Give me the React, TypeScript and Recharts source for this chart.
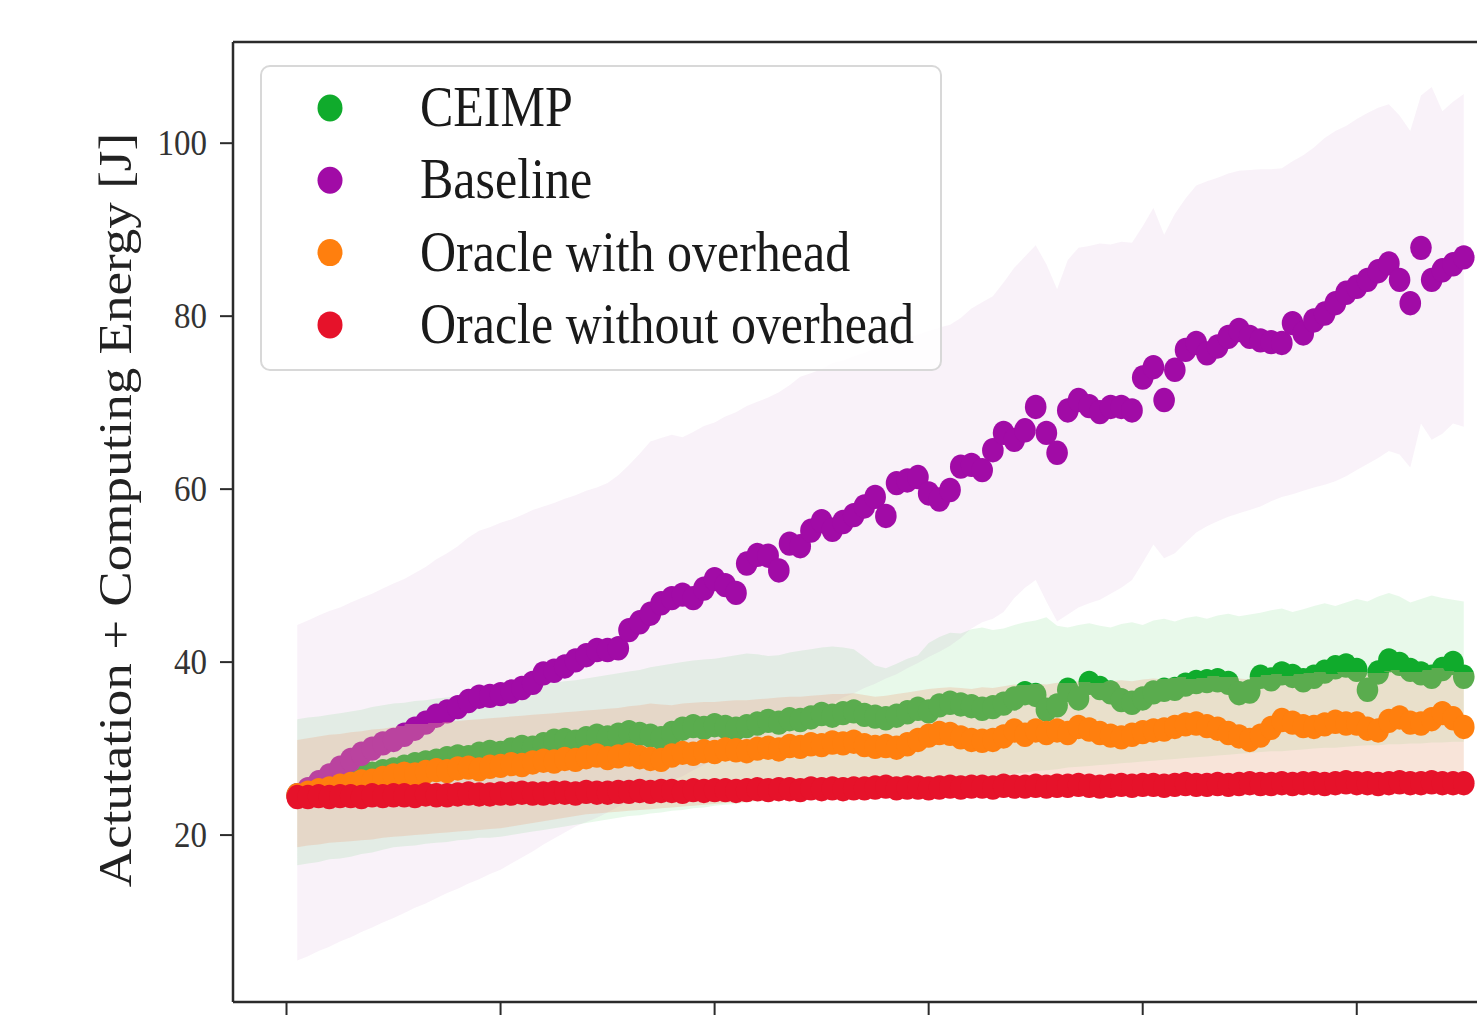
import React from 'react';
import { ComposedChart, Area, XAxis, YAxis, Legend, ReferenceLine } from 'recharts';

const FONT = "'Liberation Serif', 'Times New Roman', Times, serif";

const steps = [
  1, 2, 3, 4, 5, 6, 7, 8, 9, 10, 11, 12, 13, 14, 15, 16, 17, 18, 19, 20,
  21, 22, 23, 24, 25, 26, 27, 28, 29, 30, 31, 32, 33, 34, 35, 36, 37, 38, 39, 40,
  41, 42, 43, 44, 45, 46, 47, 48, 49, 50, 51, 52, 53, 54, 55, 56, 57, 58, 59, 60,
  61, 62, 63, 64, 65, 66, 67, 68, 69, 70, 71, 72, 73, 74, 75, 76, 77, 78, 79, 80,
  81, 82, 83, 84, 85, 86, 87, 88, 89, 90, 91, 92, 93, 94, 95, 96, 97, 98, 99, 100,
  101, 102, 103, 104, 105, 106, 107, 108, 109, 110,
];

const xTicks = [0, 20, 40, 60, 80, 100];
const yTicks = [20, 40, 60, 80, 100];

const seriesNames = ['CEIMP', 'Baseline', 'Oracle with overhead', 'Oracle without overhead'];
const yLabel = 'Actutation + Computing Energy [J]';

// mean values
const ceimp = [
  24.6, 25.0, 25.4, 25.8, 26.1, 26.5, 26.8, 27.1, 27.4, 27.6,
  27.9, 28.2, 28.4, 28.6, 28.9, 29.1, 29.0, 29.4, 29.6, 29.5,
  29.9, 30.2, 30.1, 30.5, 30.9, 31.0, 30.8, 31.2, 31.5, 31.3,
  31.6, 31.9, 31.7, 31.5, 31.2, 31.8, 32.3, 32.6, 32.4, 32.7,
  32.5, 32.3, 32.6, 32.9, 33.2, 33.0, 33.4, 33.3, 33.6, 34.0,
  33.8, 34.1, 34.3, 33.9, 33.7, 33.5, 33.8, 34.2, 34.6, 34.3,
  35.0, 35.3, 35.1, 34.9, 34.6, 34.8, 35.2, 35.8, 36.4, 36.2,
  34.5, 35.0, 36.8, 35.8, 37.6, 37.0, 36.5, 35.6, 35.3, 35.8,
  36.5, 36.8, 36.9, 37.4, 37.7, 37.8, 37.9, 37.6, 36.4, 36.6,
  38.3, 38.0, 38.7, 38.4, 37.9, 38.3, 38.9, 39.4, 39.6, 39.1,
  36.8, 38.8, 40.2, 39.8, 39.1, 38.7, 38.3, 39.2, 39.9, 38.3,
];

const baseline = [
  24.6, 25.3, 26.1, 26.9, 27.8, 28.7, 29.4, 30.0, 30.6, 31.0,
  31.6, 32.3, 33.0, 33.8, 34.3, 34.8, 35.5, 36.0, 36.1, 36.3,
  36.6, 37.0, 37.6, 38.7, 39.0, 39.5, 40.2, 40.8, 41.4, 41.4,
  41.6, 43.7, 44.6, 45.6, 46.8, 47.4, 47.8, 47.4, 48.5, 49.6,
  48.9, 48.0, 51.4, 52.4, 52.3, 50.6, 53.7, 53.4, 55.2, 56.3,
  55.3, 56.2, 57.0, 58.0, 59.1, 56.9, 60.7, 61.0, 61.4, 59.5,
  58.8, 59.9, 62.6, 62.8, 62.2, 64.5, 66.5, 65.7, 66.8, 69.5,
  66.5, 64.2, 69.1, 70.3, 69.6, 68.9, 69.5, 69.5, 69.1, 72.9,
  74.1, 70.3, 73.8, 76.1, 76.9, 75.7, 76.5, 77.6, 78.4, 77.6,
  77.2, 77.0, 76.9, 79.2, 78.0, 79.5, 80.3, 81.5, 82.7, 83.4,
  84.2, 85.2, 86.1, 84.2, 81.5, 87.9, 84.2, 85.3, 86.0, 86.8,
];

const oracleWith = [
  24.6, 24.9, 25.2, 25.4, 25.7, 25.9, 26.2, 26.3, 26.6, 26.9,
  27.1, 27.0, 27.3, 27.5, 27.4, 27.7, 27.8, 27.6, 27.9, 28.0,
  28.2, 28.1, 28.4, 28.6, 28.5, 28.8, 28.7, 29.0, 29.2, 28.9,
  29.1, 29.3, 29.0, 28.8, 28.7, 29.2, 29.5, 29.4, 29.7, 29.6,
  29.9, 29.8, 29.7, 30.0, 30.1, 29.9, 30.3, 30.2, 30.5, 30.4,
  30.7, 30.6, 30.8, 30.4, 30.2, 30.3, 30.1, 30.5, 31.0, 31.5,
  31.8, 31.7, 31.3, 31.0, 30.9, 31.0, 31.4, 32.1, 31.6, 32.1,
  31.8, 32.1, 31.8, 32.5, 32.2, 31.8, 31.5, 31.3, 31.6, 31.9,
  32.1, 32.2, 32.5, 32.8, 32.9, 32.6, 32.3, 31.8, 31.4, 31.0,
  31.5, 32.4, 33.3, 33.0, 32.6, 32.5, 32.8, 33.1, 32.9, 32.9,
  32.3, 32.1, 33.2, 33.6, 33.0, 32.9, 33.4, 34.1, 33.5, 32.5,
];

const oracleWithout = [
  24.4, 24.4, 24.5, 24.4, 24.5, 24.5, 24.4, 24.6, 24.5, 24.6,
  24.6, 24.5, 24.7, 24.6, 24.6, 24.7, 24.8, 24.7, 24.7, 24.8,
  24.8, 24.9, 24.8, 24.8, 24.9, 24.9, 24.8, 25.0, 24.9, 24.9,
  25.0, 25.0, 25.1, 25.0, 25.1, 25.1, 25.0, 25.2, 25.1, 25.2,
  25.2, 25.1, 25.2, 25.3, 25.2, 25.3, 25.3, 25.2, 25.4, 25.3,
  25.4, 25.3, 25.4, 25.4, 25.5, 25.6, 25.4, 25.5, 25.5, 25.4,
  25.5, 25.6, 25.5, 25.6, 25.6, 25.5, 25.7, 25.6, 25.6, 25.7,
  25.6, 25.7, 25.7, 25.8, 25.7, 25.6, 25.7, 25.8, 25.7, 25.8,
  25.8, 25.7, 25.8, 25.9, 25.8, 25.8, 25.9, 25.8, 25.9, 26.0,
  25.9, 25.9, 26.0, 25.9, 26.0, 26.0, 25.9, 26.0, 26.1, 26.0,
  26.0, 25.9, 26.0, 26.1, 26.0, 26.0, 26.1, 26.0, 26.0, 26.0,
];

// spread bands (lower / upper)
const ceimpLow = [
  16.5, 16.7, 16.9, 17.2, 17.3, 17.5, 17.8, 18.0, 18.3, 18.6,
  18.7, 18.8, 19.0, 19.1, 19.2, 19.4, 19.5, 19.7, 19.7, 19.8,
  20.0, 20.2, 20.4, 20.6, 20.8, 21.0, 21.2, 21.4, 21.6, 21.8,
  22.0, 22.2, 22.3, 22.5, 22.6, 22.8, 22.9, 23.1, 23.2, 23.4,
  23.5, 23.6, 23.8, 23.9, 24.0, 24.2, 24.3, 24.4, 24.5, 24.7,
  24.8, 24.9, 25.0, 25.2, 25.3, 25.4, 25.5, 25.7, 25.8, 25.9,
  26.0, 26.2, 26.3, 26.5, 26.6, 26.8, 26.9, 27.1, 27.2, 27.4,
  27.5, 27.6, 27.8, 27.9, 28.0, 28.1, 28.2, 28.3, 28.4, 28.5,
  28.6, 28.7, 28.8, 28.9, 29.0, 29.1, 29.2, 29.3, 29.4, 29.5,
  29.6, 29.7, 29.7, 29.8, 29.9, 30.0, 30.1, 30.1, 30.2, 30.3,
  30.4, 30.4, 30.5, 30.5, 30.6, 30.6, 30.7, 30.7, 30.8, 30.8,
];
const ceimpHigh = [
  33.4, 33.6, 33.7, 33.9, 34.1, 34.3, 34.5, 34.8, 35.0, 35.2,
  35.3, 35.5, 35.6, 35.8, 35.9, 36.1, 36.3, 36.5, 36.6, 36.8,
  36.9, 37.1, 37.3, 37.4, 37.6, 37.8, 37.9, 38.1, 38.3, 38.5,
  38.7, 38.9, 39.1, 39.4, 39.6, 39.8, 40.0, 40.2, 40.3, 40.4,
  40.6, 40.8, 41.0, 40.9, 40.7, 40.8, 41.1, 41.3, 41.5, 41.7,
  41.8, 41.7, 41.5, 40.6, 39.6, 39.3, 39.8, 40.4, 40.8, 42.2,
  42.9, 43.4, 43.3, 43.8, 44.0, 43.7, 43.9, 44.3, 44.6, 44.8,
  45.2, 44.2, 44.0, 44.3, 44.5, 44.2, 44.0, 44.4, 44.6, 44.3,
  44.8, 45.0, 44.7, 45.1, 45.3, 45.0, 45.4, 45.6, 45.3, 45.5,
  45.7, 46.0, 46.2, 45.8, 46.1, 46.5, 46.8, 46.5, 46.9, 47.3,
  47.0, 47.6, 48.0, 47.6, 46.9, 47.3, 47.7, 47.4, 47.2, 47.0,
];

const baselineLow = [
  5.5, 6.0, 6.6, 7.1, 7.7, 8.2, 8.8, 9.3, 9.9, 10.4,
  11.0, 11.6, 12.1, 12.7, 13.3, 13.8, 14.4, 14.9, 15.5, 16.0,
  16.7, 17.4, 18.1, 18.9, 19.6, 20.3, 21.0, 21.5, 22.0, 22.6,
  23.3, 23.9, 24.5, 25.0, 25.7, 26.3, 26.8, 27.5, 28.1, 28.8,
  29.4, 30.0, 30.5, 31.2, 31.8, 32.3, 32.9, 33.5, 34.1, 34.6,
  35.2, 35.9, 36.4, 37.0, 37.5, 38.1, 38.6, 39.3, 39.9, 40.6,
  41.2, 41.9, 42.8, 43.9, 44.6, 45.0, 45.8, 47.4, 48.6, 49.5,
  47.0, 44.7, 45.5, 46.3, 46.8, 47.2, 47.9, 48.6, 49.5, 51.5,
  53.6, 52.0, 52.6, 53.8, 55.0, 55.7, 56.3, 56.8, 57.2, 57.6,
  58.0, 58.6, 59.1, 59.4, 59.8, 60.2, 60.5, 60.9, 61.5, 62.2,
  62.9, 63.6, 64.4, 64.0, 62.5, 67.6, 65.7, 66.4, 67.6, 67.2,
];
const baselineHigh = [
  44.3, 44.8, 45.4, 45.9, 46.3, 46.9, 47.4, 47.9, 48.5, 49.1,
  49.6, 50.3, 51.0, 51.9, 52.6, 53.4, 54.4, 55.2, 55.6, 56.1,
  56.5, 57.0, 57.6, 58.0, 58.4, 58.9, 59.3, 59.8, 60.2, 60.7,
  61.6, 62.8, 64.1, 65.5, 65.9, 66.3, 66.0, 66.6, 67.3, 67.7,
  68.4, 68.9, 69.6, 70.1, 70.6, 71.2, 72.0, 73.0, 73.4, 73.9,
  74.6, 74.9, 75.4, 75.8, 76.3, 76.6, 77.0, 77.5, 77.9, 78.3,
  78.7, 79.0, 79.8, 80.9, 81.6, 82.3, 83.9, 85.6, 86.9, 88.2,
  86.0, 83.1, 86.5, 87.9, 88.1, 88.4, 88.3, 88.6, 88.5, 90.4,
  92.5, 89.4, 91.8, 93.6, 95.1, 95.6, 96.0, 96.5, 96.8, 96.9,
  97.0, 97.0, 97.1, 97.9, 98.6, 99.5, 100.6, 101.4, 102.0, 102.8,
  103.5, 104.1, 104.5, 103.2, 101.4, 105.5, 106.5, 103.7, 104.8, 105.7,
];

const oracleWithLow = [
  18.6, 18.8, 18.9, 19.1, 19.2, 19.3, 19.4, 19.5, 19.7, 19.8,
  19.9, 20.0, 20.1, 20.2, 20.3, 20.4, 20.5, 20.6, 20.7, 20.8,
  21.0, 21.2, 21.4, 21.6, 21.8, 22.0, 22.2, 22.4, 22.5, 22.6,
  22.7, 22.8, 22.9, 23.0, 23.1, 23.2, 23.3, 23.4, 23.5, 23.6,
  23.7, 23.8, 23.9, 24.0, 24.0, 24.1, 24.2, 24.3, 24.3, 24.4,
  24.5, 24.5, 24.6, 24.7, 24.7, 24.8, 24.9, 25.0, 25.0, 25.1,
  25.2, 25.2, 25.3, 25.4, 25.4, 25.5, 25.6, 25.6, 25.7, 25.8,
  25.8, 25.9, 26.0, 26.0, 26.1, 26.1, 26.2, 26.2, 26.3, 26.3,
  26.4, 26.4, 26.5, 26.5, 26.6, 26.6, 26.6, 26.7, 26.7, 26.8,
  26.8, 26.8, 26.9, 26.9, 26.9, 27.0, 27.0, 27.0, 27.1, 27.1,
  27.1, 27.1, 27.2, 27.2, 27.2, 27.2, 27.3, 27.3, 27.3, 27.3,
];
const oracleWithHigh = [
  31.0, 31.2, 31.4, 31.6, 31.7, 31.9, 32.0, 32.2, 32.3, 32.5,
  32.6, 32.8, 32.9, 33.0, 33.1, 33.2, 33.3, 33.4, 33.5, 33.6,
  33.7, 33.8, 33.9, 34.0, 34.1, 34.2, 34.3, 34.4, 34.5, 34.6,
  34.7, 34.9, 35.0, 35.2, 35.1, 35.0, 35.2, 35.3, 35.4, 35.4,
  35.5, 35.6, 35.6, 35.7, 35.8, 35.9, 36.0, 36.0, 36.1, 36.2,
  36.3, 36.3, 36.4, 36.2, 36.0, 36.1, 36.3, 36.5, 36.7, 36.9,
  37.0, 37.1, 37.0, 36.9, 37.1, 37.0, 37.2, 37.4, 37.3, 37.5,
  37.4, 37.6, 37.6, 37.8, 37.7, 37.6, 37.8, 37.9, 37.8, 38.0,
  38.1, 38.0, 38.2, 38.3, 38.1, 38.2, 38.4, 38.3, 38.1, 38.0,
  38.3, 38.5, 38.6, 38.4, 38.6, 38.7, 38.8, 38.6, 38.9, 38.8,
  38.5, 38.7, 39.0, 39.1, 38.8, 38.9, 39.1, 39.3, 39.0, 38.8,
];

const oracleWithoutLow = [
  23.3, 23.2, 23.3, 23.2, 23.3, 23.4, 23.2, 23.4, 23.3, 23.4,
  23.4, 23.3, 23.5, 23.4, 23.4, 23.5, 23.6, 23.5, 23.5, 23.6,
  23.6, 23.7, 23.6, 23.6, 23.7, 23.7, 23.6, 23.8, 23.7, 23.7,
  23.8, 23.8, 23.9, 23.8, 23.9, 23.9, 23.8, 24.0, 23.9, 24.0,
  24.0, 23.9, 24.0, 24.1, 24.0, 24.1, 24.1, 24.0, 24.2, 24.1,
  24.2, 24.1, 24.2, 24.2, 24.3, 24.4, 24.2, 24.3, 24.3, 24.2,
  24.3, 24.4, 24.3, 24.4, 24.4, 24.3, 24.5, 24.4, 24.4, 24.5,
  24.4, 24.5, 24.5, 24.6, 24.5, 24.4, 24.5, 24.6, 24.5, 24.6,
  24.6, 24.5, 24.6, 24.7, 24.6, 24.6, 24.7, 24.6, 24.7, 24.8,
  24.7, 24.7, 24.8, 24.7, 24.8, 24.8, 24.7, 24.8, 24.9, 24.8,
  24.8, 24.7, 24.8, 24.9, 24.8, 24.8, 24.9, 24.8, 24.8, 24.8,
];
const oracleWithoutHigh = [
  25.7, 25.7, 25.8, 25.7, 25.8, 25.8, 25.7, 25.9, 25.8, 25.9,
  25.9, 25.8, 26.0, 25.9, 25.9, 26.0, 26.1, 26.0, 26.0, 26.1,
  26.1, 26.2, 26.1, 26.1, 26.2, 26.2, 26.1, 26.3, 26.2, 26.2,
  26.3, 26.3, 26.4, 26.3, 26.4, 26.4, 26.3, 26.5, 26.4, 26.5,
  26.5, 26.4, 26.5, 26.6, 26.5, 26.6, 26.6, 26.5, 26.7, 26.6,
  26.7, 26.6, 26.7, 26.7, 26.8, 26.9, 26.7, 26.8, 26.8, 26.7,
  26.8, 26.9, 26.8, 26.9, 26.9, 26.8, 27.0, 26.9, 26.9, 27.0,
  26.9, 27.0, 27.0, 27.1, 27.0, 26.9, 27.0, 27.1, 27.0, 27.1,
  27.1, 27.0, 27.1, 27.2, 27.1, 27.1, 27.2, 27.1, 27.2, 27.3,
  27.2, 27.2, 27.3, 27.2, 27.3, 27.3, 27.2, 27.3, 27.4, 27.3,
  27.3, 27.2, 27.3, 27.4, 27.3, 27.3, 27.4, 27.3, 27.3, 27.3,
];

const COLORS = {
  ceimp: '#10ab2c',
  baseline: '#a10ba6',
  withOv: '#ff7f0e',
  withoutOv: '#e6122a',
};
const BAND = {
  ceimp: { fill: '#2ecc40', opacity: 0.11 },
  baseline: { fill: '#9a1aa0', opacity: 0.06 },
  withOv: { fill: '#eaaf91', opacity: 0.34 },
  withoutOv: { fill: '#ff2040', opacity: 0.08 },
};
const legendColors = [COLORS.ceimp, COLORS.baseline, COLORS.withOv, COLORS.withoutOv];

const rows = steps.map((s, k) => ({
  x: s,
  ceimp: ceimp[k],
  baseline: baseline[k],
  withOv: oracleWith[k],
  withoutOv: oracleWithout[k],
  ceimpBand: [ceimpLow[k], ceimpHigh[k]],
  baselineBand: [baselineLow[k], baselineHigh[k]],
  withOvBand: [oracleWithLow[k], oracleWithHigh[k]],
  withoutOvBand: [oracleWithoutLow[k], oracleWithoutHigh[k]],
}));

// layout constants
const Y_DOMAIN: [number, number] = [0.7, 111.7];
const MARGIN = { top: 42, right: 12, bottom: 18, left: 0 };
const CHART_H = 1060;
const X_AXIS_H = 40;
const PLOT_H = CHART_H - MARGIN.top - MARGIN.bottom - X_AXIS_H;
const PX_PER_UNIT = PLOT_H / (Y_DOMAIN[1] - Y_DOMAIN[0]);
const DOT_RX = 10.8;
const DOT_RY = 12.2;

const AXIS = '#2b2b2b';

// colour of a dot seen through a translucent band drawn on top of it
const blend = (base: string, over: string, a: number) => {
  const p = (h: string, i: number) => parseInt(h.slice(1 + 2 * i, 3 + 2 * i), 16);
  const c = [0, 1, 2].map((i) => Math.round(p(base, i) * (1 - a) + p(over, i) * a));
  return `rgb(${c[0]},${c[1]},${c[2]})`;
};

const YTick = (props: any) => {
  const { x, y, payload } = props;
  return (
    <g transform={`translate(${x},${y}) scale(1,1.07)`}>
      <text x={0} y={0} textAnchor="end" dominantBaseline="central" fontSize={33} fontFamily={FONT} fill="#333">
        {payload.value}
      </text>
    </g>
  );
};

const XTick = () => <g />;

const YLabel = () => (
  <text
    transform="translate(115,510) rotate(-90) scale(1.13,1)"
    textAnchor="middle"
    dominantBaseline="central"
    fontSize={47}
    fontFamily={FONT}
    fill="#222"
  >
    {yLabel}
  </text>
);

const renderLegend = () => (
  <div
    style={{
      width: 682,
      height: 306,
      boxSizing: 'border-box',
      border: '2px solid #d8d8d8',
      borderRadius: 10,
      background: 'rgba(255,255,255,0.85)',
    }}
  >
    <svg width={678} height={302} style={{ display: 'block' }}>
      {seriesNames.map((n, k) => (
        <g key={n}>
          <ellipse cx={68} cy={41 + 72.3 * k} rx={12.5} ry={13.5} fill={legendColors[k]} />
          <g transform={`translate(158,${40 + 72.3 * k}) scale(1,1.13)`}>
            <text x={0} y={0} dominantBaseline="central" fontSize={50} fontFamily={FONT} fill="#1a1a1a">
              {n}
            </text>
          </g>
        </g>
      ))}
    </svg>
  </div>
);

// dots; optionally partly covered by the "Oracle with overhead" band (drawn after them in the original)
const makeDot = (name: string, color: string, values?: number[]) => (p: any) => {
  const { cx, cy, index } = p;
  const key = `dot-${name}-${index}`;
  if (cx == null || cy == null || Number.isNaN(cx) || Number.isNaN(cy)) return <g key={key} />;
  if (!values) return <ellipse key={key} cx={cx} cy={cy} rx={DOT_RX} ry={DOT_RY} fill={color} />;
  const muted = blend(color, BAND.withOv.fill, BAND.withOv.opacity);
  const edgeY = cy - (oracleWithHigh[index] - values[index]) * PX_PER_UNIT;
  const t = (edgeY - (cy - DOT_RY)) / (2 * DOT_RY);
  if (t >= 1) return <ellipse key={key} cx={cx} cy={cy} rx={DOT_RX} ry={DOT_RY} fill={color} />;
  if (t <= 0) return <ellipse key={key} cx={cx} cy={cy} rx={DOT_RX} ry={DOT_RY} fill={muted} />;
  const gid = `grad-${name}-${index}`;
  return (
    <g key={key}>
      <defs>
        <linearGradient id={gid} x1="0" y1="0" x2="0" y2="1">
          <stop offset={t} stopColor={color} />
          <stop offset={t} stopColor={muted} />
        </linearGradient>
      </defs>
      <ellipse cx={cx} cy={cy} rx={DOT_RX} ry={DOT_RY} fill={`url(#${gid})`} />
    </g>
  );
};

export default function App() {
  return (
    <div style={{ position: 'absolute', left: 0, top: 0, width: 1477, height: 1022, overflow: 'hidden', background: '#fff' }}>
      <ComposedChart width={1540} height={CHART_H} data={rows} margin={MARGIN}>
        <XAxis
          dataKey="x"
          type="number"
          domain={[-5, 116]}
          ticks={xTicks}
          tick={<XTick />}
          tickSize={13}
          height={X_AXIS_H}
          axisLine={{ stroke: AXIS, strokeWidth: 2.5 }}
          tickLine={{ stroke: AXIS, strokeWidth: 2 }}
          allowDataOverflow
        />
        <YAxis
          type="number"
          domain={Y_DOMAIN}
          ticks={yTicks}
          width={233}
          tick={<YTick />}
          tickSize={13}
          tickMargin={13}
          axisLine={{ stroke: AXIS, strokeWidth: 2.5 }}
          tickLine={{ stroke: AXIS, strokeWidth: 2 }}
          label={<YLabel />}
          allowDataOverflow
        />
        <ReferenceLine y={Y_DOMAIN[1]} stroke={AXIS} strokeWidth={2.5} />

        <Area type="linear" dataKey="ceimpBand" stroke="none" fill={BAND.ceimp.fill} fillOpacity={BAND.ceimp.opacity} dot={false} activeDot={false} isAnimationActive={false} legendType="none" />
        <Area type="linear" dataKey="baselineBand" stroke="none" fill={BAND.baseline.fill} fillOpacity={BAND.baseline.opacity} dot={false} activeDot={false} isAnimationActive={false} legendType="none" />
        <Area type="linear" dataKey="withOvBand" stroke="none" fill={BAND.withOv.fill} fillOpacity={BAND.withOv.opacity} dot={false} activeDot={false} isAnimationActive={false} legendType="none" />
        <Area type="linear" dataKey="withoutOvBand" stroke="none" fill={BAND.withoutOv.fill} fillOpacity={BAND.withoutOv.opacity} dot={false} activeDot={false} isAnimationActive={false} legendType="none" />

        <Area type="linear" dataKey="ceimp" name={seriesNames[0]} stroke="none" fill="none" dot={makeDot('ceimp', COLORS.ceimp, ceimp)} activeDot={false} isAnimationActive={false} />
        <Area type="linear" dataKey="baseline" name={seriesNames[1]} stroke="none" fill="none" dot={makeDot('baseline', COLORS.baseline, baseline)} activeDot={false} isAnimationActive={false} />
        <Area type="linear" dataKey="withOv" name={seriesNames[2]} stroke="none" fill="none" dot={makeDot('withOv', COLORS.withOv)} activeDot={false} isAnimationActive={false} />
        <Area type="linear" dataKey="withoutOv" name={seriesNames[3]} stroke="none" fill="none" dot={makeDot('withoutOv', COLORS.withoutOv)} activeDot={false} isAnimationActive={false} />

        <Legend
          layout="horizontal"
          verticalAlign="middle"
          align="center"
          content={renderLegend}
          wrapperStyle={{ left: 260, top: 65, width: 682, height: 306 }}
        />
      </ComposedChart>
    </div>
  );
}
